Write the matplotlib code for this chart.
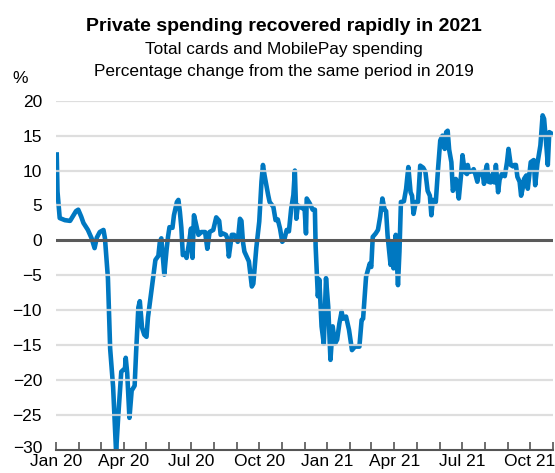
import numpy as np
import pandas as pd
import matplotlib
matplotlib.use("Agg")
import matplotlib.pyplot as plt
import matplotlib.dates as mdates
import matplotlib.transforms as mtransforms

plt.rcParams['font.family'] = ['Liberation Sans', 'DejaVu Sans']

# days after 1 Jan 2020 and spending change vs same period 2019 (%)
start_date = "2020-01-01"
end_date = "2021-11-01"
day_offsets = [
    1, 2, 5, 12, 19, 23, 27, 30, 34, 37, 40, 43, 48, 52, 55, 59, 64, 66, 70, 73,
    77, 81, 84, 88, 93, 94, 96, 99, 102, 106, 108, 111, 113, 116, 119, 122, 124, 127, 130, 134,
    138, 140, 142, 146, 149, 151, 153, 157, 159, 163, 165, 167, 169, 171, 174, 176, 179, 182, 184, 186,
    188, 192, 196, 201, 204, 207, 212, 216, 220, 222, 225, 229, 231, 233, 237, 240, 242, 245, 248, 250,
    252, 254, 257, 260, 264, 266, 270, 274, 277, 279, 281, 286, 288, 293, 296, 299, 302, 305, 308, 311,
    314, 317, 320, 322, 324, 326, 329, 332, 335, 337, 338, 342, 346, 349, 350, 353, 355, 358, 361, 364,
    367, 370, 373, 376, 379, 382, 385, 387, 391, 395, 399, 403, 406, 409, 412, 414, 416, 418, 423, 425,
    427, 431, 434, 437, 440, 443, 445, 447, 451, 453, 455, 458, 461, 463, 465, 469, 472, 475, 478, 480,
    482, 485, 488, 491, 495, 498, 501, 504, 506, 508, 512, 515, 518, 521, 524, 526, 528, 530, 533, 535,
    539, 540, 543, 546, 548, 551, 554, 555, 557, 561, 563, 565, 568, 570, 573, 575, 577, 579, 581, 583,
    586, 589, 591, 593, 596, 598, 601, 605, 608, 610, 613, 616, 618, 620, 622, 625, 627, 629, 631, 634,
    636, 638, 640, 644, 646, 649, 653, 656, 658, 661, 663, 665, 668,
]
spending = [
    12.3, 7.0, 3.2, 2.9, 2.8, 3.5, 4.2, 4.4, 3.4, 2.5, 2.0, 1.5, 0.3, -1.1, 0.4, 1.2, 1.5, 0.3, -5.4, -15.5,
    -21.0, -30.3, -25.0, -18.8, -18.3, -16.8, -19.0, -25.4, -21.5, -20.8, -16.0, -9.6, -8.7, -12.5, -13.5, -13.8, -11.0, -8.5, -6.1, -2.8,
    -2.2, -0.2, 0.3, -4.9, -1.4, 0.5, 1.9, 1.8, 3.6, 5.5, 5.8, 4.1, 1.8, -2.1, -1.9, -2.5, -0.6, 1.7, -2.5, 3.6,
    2.7, 0.8, 1.2, 1.2, -1.2, 1.2, 1.5, 3.3, 2.8, 0.8, 1.0, 0.8, 0.3, -2.3, 0.8, 0.8, 0.5, -0.2, 3.1, 2.8,
    -0.2, -1.6, -2.3, -3.0, -6.6, -6.2, -1.1, 2.7, 8.4, 10.8, 9.4, 6.5, 5.5, 4.8, 2.9, 3.0, 1.7, -0.2, 0.2, 1.5,
    1.3, 4.5, 6.5, 10.0, 3.1, 5.0, 4.8, 4.6, 4.8, 1.0, 6.0, 5.3, 4.4, 4.4, -0.8, -8.0, -5.6, -12.3, -14.8, -5.4,
    -9.5, -17.1, -12.3, -14.8, -14.2, -11.9, -10.2, -11.2, -10.9, -12.8, -15.7, -15.2, -15.2, -15.2, -11.4, -11.2, -8.1, -5.2, -3.3, -3.8,
    0.5, 1.0, 1.5, 3.4, 6.0, 4.4, 4.2, 0.7, -3.5, -0.2, -4.0, 0.8, -6.4, -1.6, 5.5, 5.6, 7.4, 10.5, 6.9, 6.4,
    3.8, 5.5, 5.5, 10.7, 10.4, 9.8, 7.1, 6.4, 3.6, 5.8, 5.5, 10.2, 14.3, 15.0, 13.1, 15.5, 15.7, 13.0, 11.2, 7.1,
    8.8, 8.5, 6.0, 9.3, 12.2, 9.8, 9.5, 10.8, 9.8, 9.9, 10.2, 9.6, 8.4, 9.7, 9.5, 9.8, 8.1, 9.9, 10.8, 8.4,
    8.3, 9.6, 8.3, 10.8, 6.9, 8.7, 9.5, 9.2, 11.2, 13.1, 10.8, 10.6, 10.8, 10.8, 9.1, 8.4, 6.4, 7.4, 8.8, 9.3,
    7.4, 9.3, 11.2, 11.5, 7.9, 11.0, 13.6, 17.9, 17.4, 13.6, 10.8, 15.5, 15.3,
]
y_ticks = [20, 15, 10, 5, 0, -5, -10, -15, -20, -25, -30]

dates = pd.Timestamp(start_date) + pd.to_timedelta(day_offsets, unit="D")

fig = plt.figure(figsize=(5.55, 4.73), dpi=100)
ax = fig.add_axes([56 / 555, 1 - 450 / 473, 497 / 555, (450 - 100.7) / 473])

ax.plot(dates, spending, color="#0078c1", lw=3.3, zorder=2, solid_joinstyle="round")

# grid lines sit on top of the series, zero line darker
for v in y_ticks:
    if v == 0:
        ax.axhline(v, color="#5a5a5a", lw=2.2, zorder=4)
    elif v != -30:
        ax.axhline(v, color="#d9d9d9", lw=1.6, alpha=0.85, zorder=3)

ax.set_ylim(-30, 20)
ax.set_xlim(pd.Timestamp(start_date), pd.Timestamp(end_date))
ax.set_yticks(y_ticks)
ax.tick_params(axis="y", length=0, pad=10, labelsize=12.5)
# lift the bottom label a touch so it clears "Jan 20"
bottom_lbl = ax.get_yticklabels()[-1]
bottom_lbl.set_transform(bottom_lbl.get_transform() +
                         mtransforms.ScaledTranslation(0, 3 / 100, fig.dpi_scale_trans))

ax.xaxis.set_major_locator(mdates.MonthLocator())
ax.xaxis.set_major_formatter(
    plt.FuncFormatter(lambda x, pos: mdates.num2date(x).strftime("%b %y")
                      if mdates.num2date(x).month in (1, 4, 7, 10) else ""))
ax.tick_params(axis="x", direction="in", length=6, width=1.2, color="#555555",
               pad=3, labelsize=12.5)

for s in ["top", "right", "left"]:
    ax.spines[s].set_visible(False)
ax.spines["bottom"].set_color("#555555")
ax.spines["bottom"].set_linewidth(1.5)
ax.spines["bottom"].set_zorder(5)

fig.text(0.512, 0.945, "Private spending recovered rapidly in 2021",
         ha="center", va="center", fontsize=14, fontweight="bold")
fig.text(0.512, 0.896, "Total cards and MobilePay spending",
         ha="center", va="center", fontsize=12.4)
fig.text(0.512, 0.848, "Percentage change from the same period in 2019",
         ha="center", va="center", fontsize=12.4)
fig.text(0.022, 0.833, "%", ha="left", va="center", fontsize=12.5)

fig.savefig("out.png", dpi=100)
